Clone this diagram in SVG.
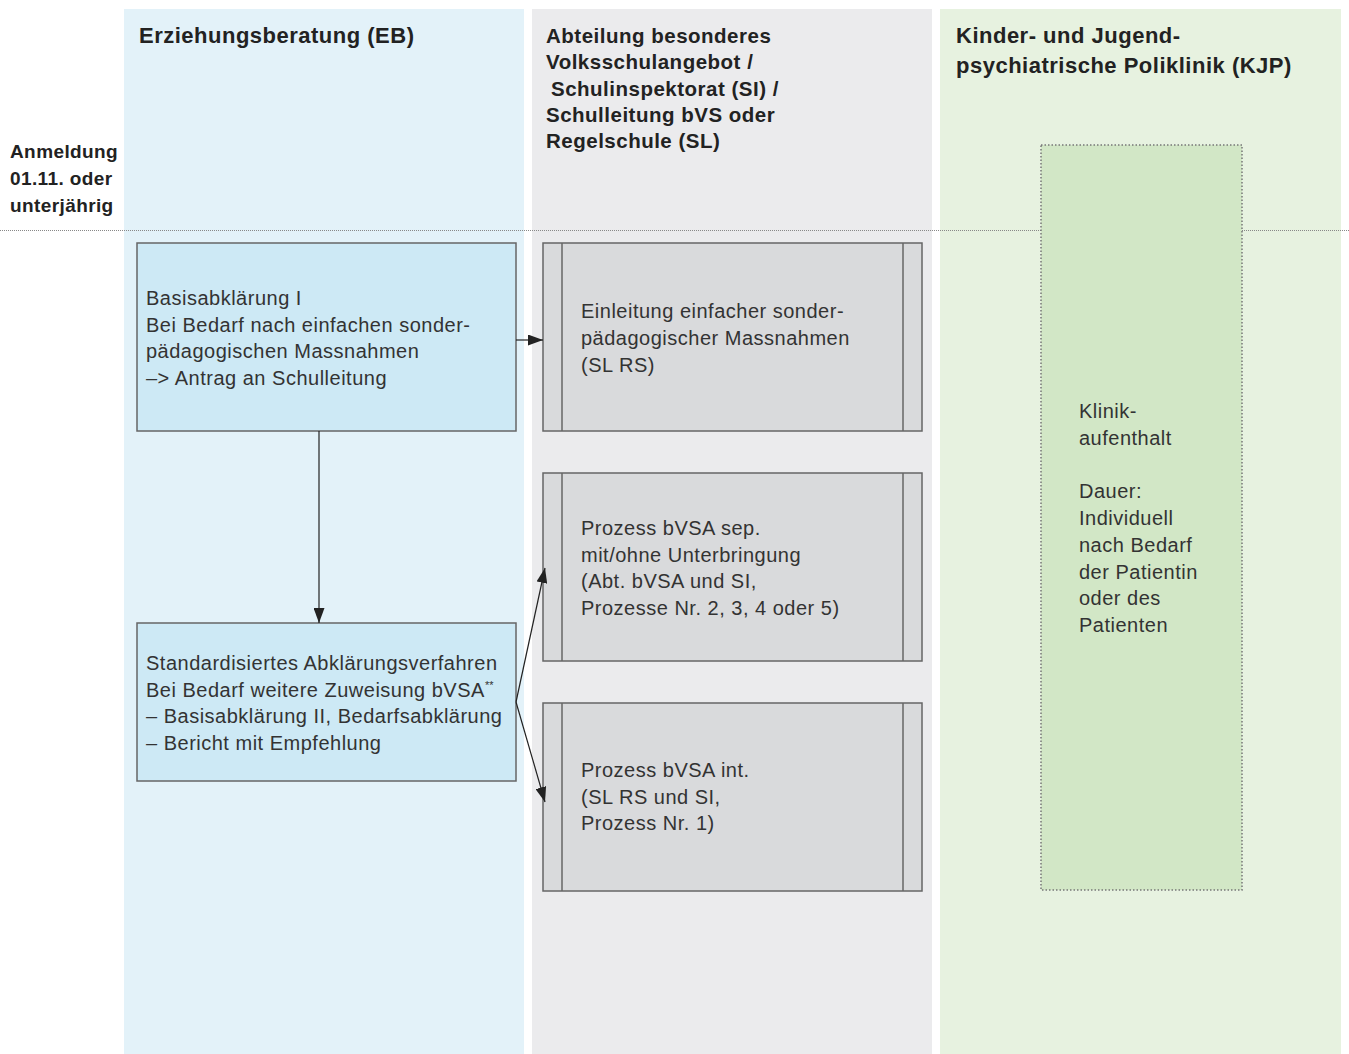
<svg xmlns="http://www.w3.org/2000/svg" width="1349" height="1054" viewBox="0 0 1349 1054">
<style>
.hdr{font-family:"Liberation Sans",Arial,sans-serif;font-weight:bold;fill:#222;font-size:22px;letter-spacing:0.5px}
.hdr2{font-family:"Liberation Sans",Arial,sans-serif;font-weight:bold;fill:#222;font-size:20.5px;letter-spacing:0.5px}
.lbl{font-family:"Liberation Sans",Arial,sans-serif;font-weight:bold;fill:#222;font-size:19px;letter-spacing:0.4px}
.txt{font-family:"Liberation Sans",Arial,sans-serif;fill:#333;font-size:20px;letter-spacing:0.5px}
.sup{font-size:11px;letter-spacing:0}
.blue{fill:#cde9f5;stroke:#666;stroke-width:1.5}
.gray{fill:#d9dadc;stroke:#666;stroke-width:1.5}
.inner{stroke:#666;stroke-width:1.5}
.conn{stroke:#222;stroke-width:1.2;fill:none;marker-end:url(#arr)}
</style>
<defs>
<marker id="arr" markerUnits="userSpaceOnUse" markerWidth="16" markerHeight="11" refX="15" refY="5.5" orient="auto">
<path d="M0,0 L15,5.5 L0,11 z" fill="#222"/>
</marker>
</defs>
<rect width="1349" height="1054" fill="#ffffff"/>
<g id="lanes">
<rect x="124" y="9" width="400" height="1045" fill="#e3f2f9"/>
<rect x="532" y="9" width="400" height="1045" fill="#ebebed"/>
<rect x="940" y="9" width="401" height="1045" fill="#e7f2e0"/>
<text class="hdr" x="139" y="43">Erziehungsberatung (EB)</text>
<text class="hdr2" x="546"><tspan x="546" y="43">Abteilung besonderes</tspan><tspan x="546" y="69">Volksschulangebot /</tspan><tspan x="551" y="96">Schulinspektorat (SI) /</tspan><tspan x="546" y="122">Schulleitung bVS oder</tspan><tspan x="546" y="148">Regelschule (SL)</tspan></text>
<text class="hdr" x="956"><tspan x="956" y="43">Kinder- und Jugend-</tspan><tspan x="956" y="73">psychiatrische Poliklinik (KJP)</tspan></text>
<text class="lbl" x="10"><tspan x="10" y="158">Anmeldung</tspan><tspan x="10" y="185">01.11. oder</tspan><tspan x="10" y="212">unterjährig</tspan></text>
<line x1="0" y1="230.5" x2="1349" y2="230.5" stroke="#888" stroke-width="1" stroke-dasharray="1 1"/>
</g>
<g id="kjp">
<rect x="1041" y="145" width="201" height="745" fill="#d2e7c6" stroke="#777" stroke-width="1.5" stroke-dasharray="1.5 2"/>
<text class="txt" x="1079"><tspan x="1079" y="418">Klinik-</tspan><tspan x="1079" y="445">aufenthalt</tspan><tspan x="1079" y="498">Dauer:</tspan><tspan x="1079" y="525">Individuell</tspan><tspan x="1079" y="552">nach Bedarf</tspan><tspan x="1079" y="579">der Patientin</tspan><tspan x="1079" y="605">oder des</tspan><tspan x="1079" y="632">Patienten</tspan></text>
</g>
<g id="basis1">
<rect class="blue" x="137" y="243" width="379" height="188"/>
<text class="txt" x="146"><tspan x="146" y="305">Basisabklärung I</tspan><tspan x="146" y="332">Bei Bedarf nach einfachen sonder-</tspan><tspan x="146" y="358">pädagogischen Massnahmen</tspan><tspan x="146" y="385">–&gt; Antrag an Schulleitung</tspan></text>
</g>
<g id="standard">
<rect class="blue" x="137" y="623" width="379" height="158"/>
<text class="txt" x="146"><tspan x="146" y="670">Standardisiertes Abklärungsverfahren</tspan><tspan x="146" y="697">Bei Bedarf weitere Zuweisung bVSA<tspan class="sup" dy="-8">**</tspan></tspan><tspan x="146" y="723">– Basisabklärung II, Bedarfsabklärung</tspan><tspan x="146" y="750">– Bericht mit Empfehlung</tspan></text>
</g>
<g id="einleitung">
<rect class="gray" x="543" y="243" width="379" height="188"/>
<line class="inner" x1="562" y1="243" x2="562" y2="431"/>
<line class="inner" x1="903" y1="243" x2="903" y2="431"/>
<text class="txt" x="581"><tspan x="581" y="318">Einleitung einfacher sonder-</tspan><tspan x="581" y="345">pädagogischer Massnahmen</tspan><tspan x="581" y="372">(SL RS)</tspan></text>
</g>
<g id="sep">
<rect class="gray" x="543" y="473" width="379" height="188"/>
<line class="inner" x1="562" y1="473" x2="562" y2="661"/>
<line class="inner" x1="903" y1="473" x2="903" y2="661"/>
<text class="txt" x="581"><tspan x="581" y="535">Prozess bVSA sep.</tspan><tspan x="581" y="562">mit/ohne Unterbringung</tspan><tspan x="581" y="588">(Abt. bVSA und SI,</tspan><tspan x="581" y="615">Prozesse Nr. 2, 3, 4 oder 5)</tspan></text>
</g>
<g id="int">
<rect class="gray" x="543" y="703" width="379" height="188"/>
<line class="inner" x1="562" y1="703" x2="562" y2="891"/>
<line class="inner" x1="903" y1="703" x2="903" y2="891"/>
<text class="txt" x="581"><tspan x="581" y="777">Prozess bVSA int.</tspan><tspan x="581" y="804">(SL RS und SI,</tspan><tspan x="581" y="830">Prozess Nr. 1)</tspan></text>
</g>
<g id="connectors">
<line class="conn" x1="516" y1="340" x2="543" y2="340"/>
<line class="conn" x1="319" y1="431" x2="319" y2="623"/>
<line class="conn" x1="516" y1="702" x2="545" y2="568"/>
<line class="conn" x1="516" y1="702" x2="545" y2="802"/>
</g>
</svg>
